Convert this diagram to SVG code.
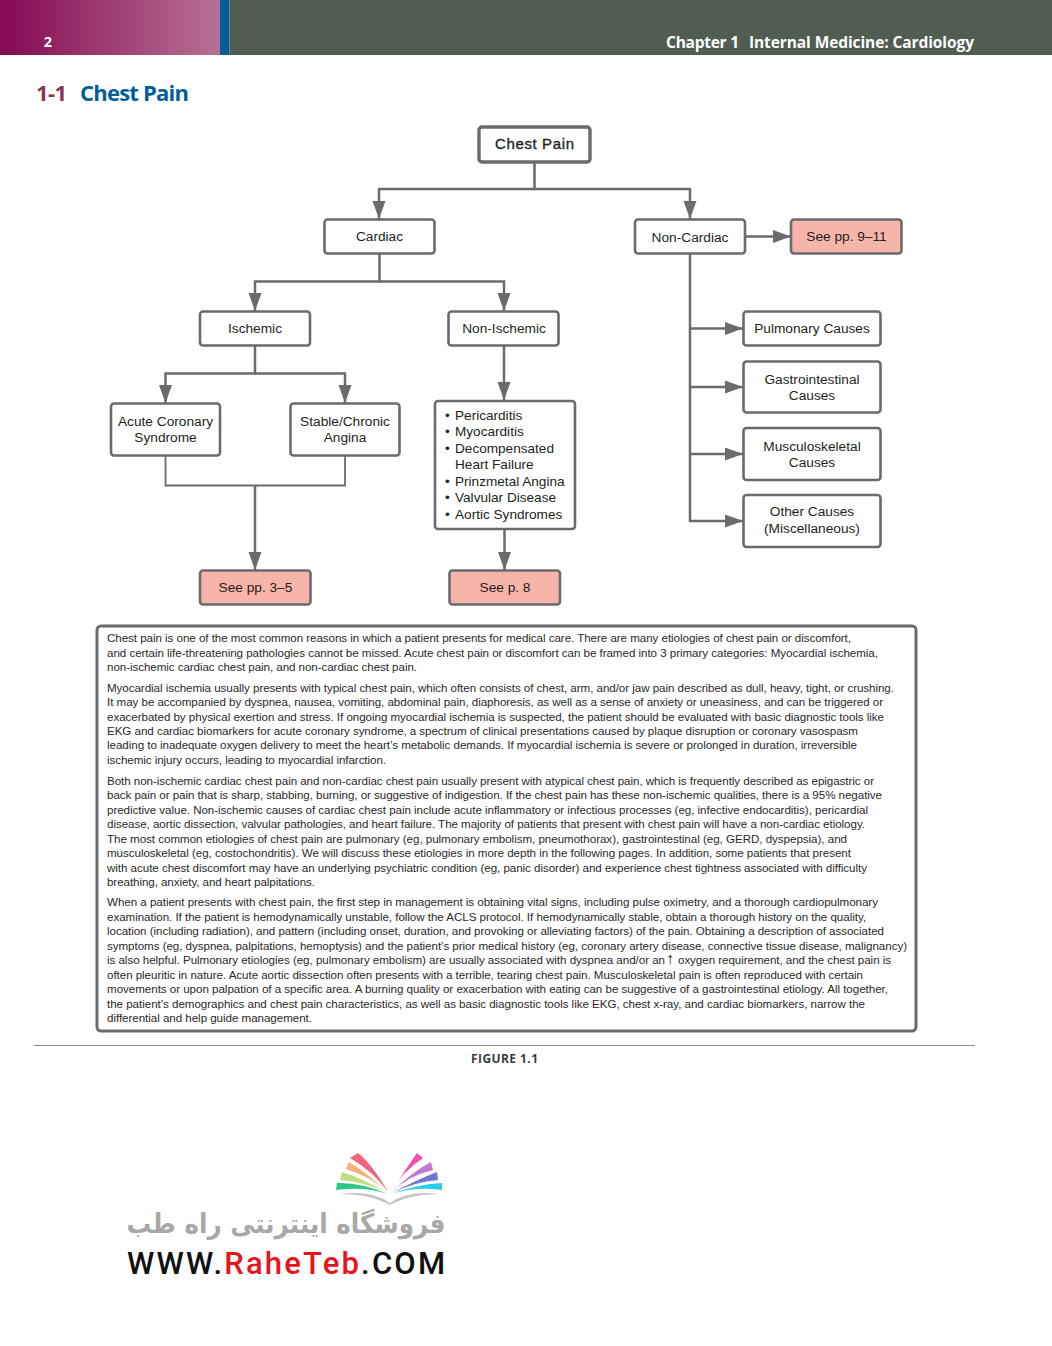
<svg xmlns="http://www.w3.org/2000/svg" width="1052" height="1346" viewBox="0 0 1052 1346">
<style>
.box{fill:#fff;stroke:#6b6b6f;stroke-width:2.6}
.ref{fill:#f7b4ab;stroke:#6b6b6f;stroke-width:2.6}
.lb{font:13.7px "Liberation Sans",Arial,sans-serif;fill:#231f20;text-anchor:middle}
.bl{font:13.6px "Liberation Sans",Arial,sans-serif;fill:#231f20}
.t{font:11.6px "Liberation Sans",Arial,sans-serif;fill:#2b2829}
.c{fill:none;stroke:#6b6b6f;stroke-width:2.5}
.h{font-family:"Open Sans","Noto Sans",sans-serif;font-weight:700}
</style>
<defs>
<linearGradient id="g"><stop offset="0" stop-color="#850a52"/><stop offset="1" stop-color="#b77095"/></linearGradient>
<marker id="a" markerUnits="userSpaceOnUse" markerWidth="20" markerHeight="14" refX="18" refY="6.500" orient="auto"><path d="M0 0L18 6.500L0 13Z" fill="#6b6b6f"/></marker>
</defs>
<rect width="1052" height="1346" fill="#fff"/>
<g id="header">
<rect width="220" height="55" fill="url(#g)"/>
<rect x="220" width="9.500" height="55" fill="#005f99"/>
<rect x="229.500" width="822.500" height="55" fill="#515c52"/>
<text x="48" y="47" class="h" font-size="14.500" fill="#fff" text-anchor="middle">2</text>
<text x="666" y="47.500" class="h" font-size="15.500" fill="#fff" font-weight="600" textLength="73">Chapter 1</text>
<text x="749" y="47.500" class="h" font-size="15.500" fill="#fff" font-weight="600" textLength="225">Internal Medicine: Cardiology</text>
<text x="36" y="101" class="h" font-size="22" fill="#8a3459" font-weight="600" textLength="31">1-1</text>
<text x="80" y="101" class="h" font-size="22" fill="#005f99" font-weight="600" textLength="109">Chest Pain</text>
</g>
<g id="connectors">
<path class="c" d="M534.500 162V189H379V219" marker-end="url(#a)"/>
<path class="c" d="M534.500 189H690V219" marker-end="url(#a)"/>
<path class="c" d="M745 236.500H791" marker-end="url(#a)"/>
<path class="c" d="M379.500 253V281.500H255V311" marker-end="url(#a)"/>
<path class="c" d="M379.500 281.500H504V311" marker-end="url(#a)"/>
<path class="c" d="M255 346V373.500H165.500V403" marker-end="url(#a)"/>
<path class="c" d="M255 373.500H345V403" marker-end="url(#a)"/>
<path class="c" d="M504 346V400" marker-end="url(#a)"/>
<path class="c" style="stroke-width:1.800" d="M165.500 455V485.500H345V455"/>
<path class="c" d="M255 485.500V570" marker-end="url(#a)"/>
<path class="c" d="M504.500 529V570" marker-end="url(#a)"/>
<path class="c" d="M690 254V521H743" marker-end="url(#a)"/>
<path class="c" d="M690 328.500H743" marker-end="url(#a)"/>
<path class="c" d="M690 387H743" marker-end="url(#a)"/>
<path class="c" d="M690 454H743" marker-end="url(#a)"/>
</g>
<g id="chest-pain"><rect class="box" style="stroke-width:3.400" x="479" y="127" width="111" height="35" rx="3"/><text class="lb" style="font-size:15px;stroke:#231f20;stroke-width:.35" x="534.500" y="149" textLength="79">Chest Pain</text></g>
<g id="cardiac"><rect class="box" x="324.500" y="219.500" width="110" height="34" rx="3"/><text class="lb" x="379.500" y="241">Cardiac</text></g>
<g id="non-cardiac"><rect class="box" x="635" y="219.500" width="110" height="34" rx="3"/><text class="lb" x="690" y="242">Non-Cardiac</text></g>
<g id="see-9-11"><rect class="ref" x="791" y="219.500" width="110.500" height="34" rx="3"/><text class="lb" x="846.500" y="241">See pp. 9–11</text></g>
<g id="ischemic"><rect class="box" x="200" y="311.500" width="110" height="34" rx="3"/><text class="lb" x="255" y="333">Ischemic</text></g>
<g id="non-ischemic"><rect class="box" x="448.500" y="311.500" width="110" height="34" rx="3"/><text class="lb" x="504" y="333">Non-Ischemic</text></g>
<g id="acs"><rect class="box" x="111" y="403.500" width="109" height="52" rx="3"/><text class="lb" x="165.500" y="426">Acute Coronary</text><text class="lb" x="165.500" y="442">Syndrome</text></g>
<g id="stable"><rect class="box" x="290.500" y="403.500" width="109" height="52" rx="3"/><text class="lb" x="345" y="426">Stable/Chronic</text><text class="lb" x="345" y="442">Angina</text></g>
<g id="non-ischemic-list"><rect class="box" x="435" y="401" width="140" height="128" rx="3"/>
<text class="bl" x="445" y="420">•</text><text class="bl" x="455" y="420">Pericarditis</text>
<text class="bl" x="445" y="436">•</text><text class="bl" x="455" y="436">Myocarditis</text>
<text class="bl" x="445" y="453">•</text><text class="bl" x="455" y="453">Decompensated</text>
<text class="bl" x="455" y="469">Heart Failure</text>
<text class="bl" x="445" y="486">•</text><text class="bl" x="455" y="486">Prinzmetal Angina</text>
<text class="bl" x="445" y="502">•</text><text class="bl" x="455" y="502">Valvular Disease</text>
<text class="bl" x="445" y="519">•</text><text class="bl" x="455" y="519">Aortic Syndromes</text></g>
<g id="see-3-5"><rect class="ref" x="200" y="570.500" width="110.500" height="34" rx="3"/><text class="lb" x="255.500" y="592">See pp. 3–5</text></g>
<g id="see-8"><rect class="ref" x="449.500" y="570.500" width="110.500" height="34" rx="3"/><text class="lb" x="505" y="592">See p. 8</text></g>
<g id="pulmonary"><rect class="box" x="743.500" y="311.500" width="137" height="34" rx="3"/><text class="lb" x="812" y="333">Pulmonary Causes</text></g>
<g id="gi"><rect class="box" x="743.500" y="361.500" width="137" height="51" rx="3"/><text class="lb" x="812" y="384">Gastrointestinal</text><text class="lb" x="812" y="400">Causes</text></g>
<g id="msk"><rect class="box" x="743.500" y="428" width="137" height="52" rx="3"/><text class="lb" x="812" y="451">Musculoskeletal</text><text class="lb" x="812" y="467">Causes</text></g>
<g id="other"><rect class="box" x="743.500" y="495" width="137" height="52" rx="3"/><text class="lb" x="812" y="516">Other Causes</text><text class="lb" x="812" y="533">(Miscellaneous)</text></g>
<g id="summary">
<rect class="box" x="97" y="626" width="819" height="405" rx="4" style="stroke-width:3"/>
<text class="t" x="107" y="642" textLength="744">Chest pain is one of the most common reasons in which a patient presents for medical care. There are many etiologies of chest pain or discomfort,</text>
<text class="t" x="107" y="657" textLength="771">and certain life-threatening pathologies cannot be missed. Acute chest pain or discomfort can be framed into 3 primary categories: Myocardial ischemia,</text>
<text class="t" x="107" y="671" textLength="310">non-ischemic cardiac chest pain, and non-cardiac chest pain.</text>
<text class="t" x="107" y="692" textLength="787">Myocardial ischemia usually presents with typical chest pain, which often consists of chest, arm, and/or jaw pain described as dull, heavy, tight, or crushing.</text>
<text class="t" x="107" y="706" textLength="776">It may be accompanied by dyspnea, nausea, vomiting, abdominal pain, diaphoresis, as well as a sense of anxiety or uneasiness, and can be triggered or</text>
<text class="t" x="107" y="721" textLength="777">exacerbated by physical exertion and stress. If ongoing myocardial ischemia is suspected, the patient should be evaluated with basic diagnostic tools like</text>
<text class="t" x="107" y="735" textLength="751">EKG and cardiac biomarkers for acute coronary syndrome, a spectrum of clinical presentations caused by plaque disruption or coronary vasospasm</text>
<text class="t" x="107" y="749" textLength="750">leading to inadequate oxygen delivery to meet the heart’s metabolic demands. If myocardial ischemia is severe or prolonged in duration, irreversible</text>
<text class="t" x="107" y="764" textLength="279">ischemic injury occurs, leading to myocardial infarction.</text>
<text class="t" x="107" y="785" textLength="767">Both non-ischemic cardiac chest pain and non-cardiac chest pain usually present with atypical chest pain, which is frequently described as epigastric or</text>
<text class="t" x="107" y="799" textLength="775">back pain or pain that is sharp, stabbing, burning, or suggestive of indigestion. If the chest pain has these non-ischemic qualities, there is a 95% negative</text>
<text class="t" x="107" y="814" textLength="761">predictive value. Non-ischemic causes of cardiac chest pain include acute inflammatory or infectious processes (eg, infective endocarditis), pericardial</text>
<text class="t" x="107" y="828" textLength="758">disease, aortic dissection, valvular pathologies, and heart failure. The majority of patients that present with chest pain will have a non-cardiac etiology.</text>
<text class="t" x="107" y="843" textLength="740">The most common etiologies of chest pain are pulmonary (eg, pulmonary embolism, pneumothorax), gastrointestinal (eg, GERD, dyspepsia), and</text>
<text class="t" x="107" y="857" textLength="744">musculoskeletal (eg, costochondritis). We will discuss these etiologies in more depth in the following pages. In addition, some patients that present</text>
<text class="t" x="107" y="872" textLength="760">with acute chest discomfort may have an underlying psychiatric condition (eg, panic disorder) and experience chest tightness associated with difficulty</text>
<text class="t" x="107" y="886" textLength="208">breathing, anxiety, and heart palpitations.</text>
<text class="t" x="107" y="906" textLength="771">When a patient presents with chest pain, the first step in management is obtaining vital signs, including pulse oximetry, and a thorough cardiopulmonary</text>
<text class="t" x="107" y="921" textLength="759">examination. If the patient is hemodynamically unstable, follow the ACLS protocol. If hemodynamically stable, obtain a thorough history on the quality,</text>
<text class="t" x="107" y="935" textLength="777">location (including radiation), and pattern (including onset, duration, and provoking or alleviating factors) of the pain. Obtaining a description of associated</text>
<text class="t" x="107" y="950" textLength="800">symptoms (eg, dyspnea, palpitations, hemoptysis) and the patient’s prior medical history (eg, coronary artery disease, connective tissue disease, malignancy)</text>
<text class="t" x="107" y="964" textLength="558">is also helpful. Pulmonary etiologies (eg, pulmonary embolism) are usually associated with dyspnea and/or an</text>
<text class="t" x="666" y="964" font-size="15" style="font-size:16px">↑</text>
<text class="t" x="678" y="964" textLength="213">oxygen requirement, and the chest pain is</text>
<text class="t" x="107" y="979" textLength="756">often pleuritic in nature. Acute aortic dissection often presents with a terrible, tearing chest pain. Musculoskeletal pain is often reproduced with certain</text>
<text class="t" x="107" y="993" textLength="781">movements or upon palpation of a specific area. A burning quality or exacerbation with eating can be suggestive of a gastrointestinal etiology. All together,</text>
<text class="t" x="107" y="1008" textLength="758">the patient’s demographics and chest pain characteristics, as well as basic diagnostic tools like EKG, chest x-ray, and cardiac biomarkers, narrow the</text>
<text class="t" x="107" y="1022" textLength="205">differential and help guide management.</text>
</g>
<g id="caption">
<path d="M34 1045.500H975" stroke="#8c8c8c" stroke-width="1"/>
<text x="504.500" y="1063" class="h" font-size="12" fill="#3c3c3c" text-anchor="middle" textLength="67">FIGURE 1.1</text>
</g>
<g id="logo">
<path d="M388 1192Q372 1164 358 1153L350 1158Q374 1172 388 1192Z" fill="#f0647c"/>
<path d="M387 1192Q366 1172 349 1162L346 1169Q372 1177 387 1192Z" fill="#f4b078"/>
<path d="M387 1193Q362 1178 342 1172L340 1180Q366 1182 387 1193Z" fill="#c5db82"/>
<path d="M388 1194Q360 1182 337 1183L336 1190Q364 1186 388 1194Z" fill="#2fc48c"/>
<path d="M391 1192Q408 1166 417 1153L423 1158Q402 1172 391 1192Z" fill="#f24fb2"/>
<path d="M392 1192Q412 1172 431 1162L433 1170Q408 1176 392 1192Z" fill="#c476d0"/>
<path d="M392 1193Q416 1180 437 1172L438 1180Q414 1182 392 1193Z" fill="#6f78cc"/>
<path d="M392 1194Q418 1184 442 1183L442 1190Q416 1186 392 1194Z" fill="#27cfe8"/>
<path d="M340 1194Q372 1190 390 1203Q408 1190 440 1194Q410 1194 390 1205Q370 1194 340 1194Z" fill="#c4c4c4"/>
<text x="286" y="1233" font-family="'DejaVu Sans',sans-serif" font-size="27" font-weight="700" fill="#a8a8a8" text-anchor="middle" direction="rtl" textLength="319" lengthAdjust="spacingAndGlyphs">فروشگاه اینترنتی راه طب</text>
<text x="127" y="1274" font-family="Roboto,'Liberation Sans',sans-serif" font-weight="500" font-size="31" textLength="318"><tspan fill="#111">WWW.</tspan><tspan fill="#e8141c">RaheTeb</tspan><tspan fill="#111">.COM</tspan></text>
</g>
</svg>
